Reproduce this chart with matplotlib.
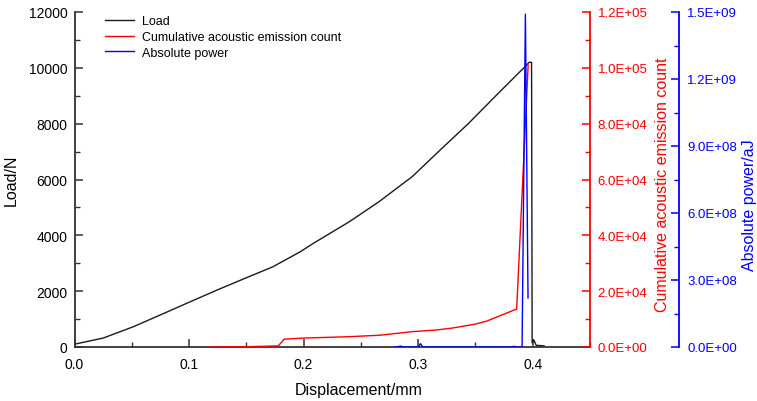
import numpy as np
import matplotlib
matplotlib.use("Agg")
import matplotlib.pyplot as plt
from matplotlib.ticker import MultipleLocator, FuncFormatter

plt.rcParams['font.family'] = ['Liberation Sans', 'DejaVu Sans']

# load curve (displacement in mm, load in N)
disp_load = [0.0, 0.025, 0.051, 0.075, 0.101, 0.125, 0.150, 0.173, 0.197, 0.208,
             0.240, 0.266, 0.295, 0.318, 0.344, 0.370, 0.392, 0.397, 0.399,
             0.3995, 0.401, 0.403, 0.410]
load = [100, 320, 720, 1150, 1620, 2050, 2480, 2870, 3410, 3700,
        4490, 5210, 6110, 7010, 8010, 9090, 9990, 10200, 10200,
        150, 250, 60, 40]

# cumulative acoustic emission count
disp_ae = [0.118, 0.150, 0.178, 0.183, 0.200, 0.240, 0.266, 0.295, 0.316,
           0.330, 0.350, 0.360, 0.386, 0.396]
ae_count = [0, 100, 400, 2800, 3200, 3700, 4200, 5500, 6100,
            6800, 8200, 9300, 13600, 101000]

# absolute power (aJ)
disp_pw = [0.280, 0.285, 0.287, 0.290, 0.300, 0.302, 0.304, 0.380, 0.384,
           0.386, 0.3907, 0.3936, 0.3959]
power = [0, 4e6, 0, 0, 0, 1.5e7, 0, 0, 3e6, 0, 0, 1.49e9, 2.2e8]

W, H = 757, 402
fig = plt.figure(figsize=(W / 100, H / 100), dpi=100)
x0, x1, y0, y1 = 74.5, 590, 348, 13
ax = fig.add_axes([x0 / W, (H - y0) / H, (x1 - x0) / W, (y0 - y1) / H])

l1, = ax.plot(disp_load, load, color='#1a1a1a', lw=1.0, label='Load')
ax.set_xlim(0, 0.45)
ax.set_ylim(0, 12000)
ax.xaxis.set_major_locator(MultipleLocator(0.1))
ax.xaxis.set_minor_locator(MultipleLocator(0.05))
ax.yaxis.set_major_locator(MultipleLocator(2000))
ax.yaxis.set_minor_locator(MultipleLocator(1000))
ax.xaxis.set_major_formatter(FuncFormatter(lambda v, p: f"{v:.1f}"))
ax.spines['top'].set_visible(False)
ax.spines['right'].set_visible(False)
for s in ['left', 'bottom']:
    ax.spines[s].set_color('#333333')
    ax.spines[s].set_linewidth(1.3)
ax.tick_params(which='both', direction='in', labelsize=10, color='#333333')
ax.tick_params(which='major', length=6, width=1.1)
ax.tick_params(which='minor', length=3.5, width=1.0)
ax.tick_params(axis='y', pad=5)
ax.tick_params(axis='x', pad=7)
ax.set_ylabel('Load/N', fontsize=11.5)
ax.yaxis.set_label_coords((19 - x0) / (x1 - x0), 0.5)
ax.set_xlabel('Displacement/mm', fontsize=11.5)
ax.xaxis.set_label_coords(0.552, -0.104)

# red axis: cumulative AE count
ax2 = ax.twinx()
l2, = ax2.plot(disp_ae, ae_count, color='#ff0000', lw=1.0,
               label='Cumulative acoustic emission count')
ax2.set_ylim(0, 1.2e5)
ax2.yaxis.set_major_locator(MultipleLocator(2e4))
ax2.yaxis.set_minor_locator(MultipleLocator(1e4))
ax2.yaxis.set_major_formatter(FuncFormatter(lambda v, p: f"{v:.1E}"))
for s in ['top', 'left', 'bottom']:
    ax2.spines[s].set_visible(False)
ax2.spines['right'].set_color('#ff0000')
ax2.spines['right'].set_linewidth(1.3)
ax2.tick_params(which='both', direction='in', colors='#ff0000', labelsize=9.5, pad=5.5)
ax2.tick_params(which='major', length=6, width=1.1)
ax2.tick_params(which='minor', length=3.5, width=1.0)
ax2.set_ylabel('Cumulative acoustic emission count', color='#ff0000', fontsize=11.5)
ax2.yaxis.set_label_coords((655 - x0) / (x1 - x0), 0.488)

# blue axis: absolute power
ax3 = ax.twinx()
l3, = ax3.plot(disp_pw, power, color='#0000ff', lw=1.0, label='Absolute power')
ax3.set_ylim(0, 1.5e9)
ax3.spines['right'].set_position(('axes', (679 - x0) / (x1 - x0)))
ax3.yaxis.set_major_locator(MultipleLocator(3e8))
ax3.yaxis.set_minor_locator(MultipleLocator(1.5e8))
ax3.yaxis.set_major_formatter(FuncFormatter(lambda v, p: f"{v:.1E}"))
for s in ['top', 'left', 'bottom']:
    ax3.spines[s].set_visible(False)
ax3.spines['right'].set_color('#0000ff')
ax3.spines['right'].set_linewidth(1.3)
ax3.tick_params(which='both', direction='in', colors='#0000ff', labelsize=9.5, pad=6)
ax3.tick_params(which='major', length=6, width=1.1)
ax3.tick_params(which='minor', length=3.5, width=1.0)
ax3.set_ylabel('Absolute power/aJ', color='#0000ff', fontsize=11.5)
ax3.yaxis.set_label_coords((742 - x0) / (x1 - x0), 0.427)

ax3.legend(handles=[l1, l2, l3], loc='upper left', frameon=False, fontsize=9,
           bbox_to_anchor=(0.05, 1.005), handlelength=2.3, handletextpad=0.6,
           labelspacing=0.3, borderaxespad=0)

fig.savefig('out.png', dpi=100)
